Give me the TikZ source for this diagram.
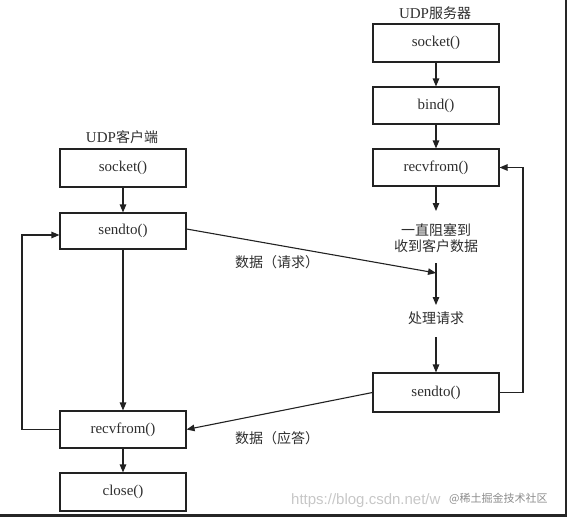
\documentclass[tikz,border=0pt]{standalone}
\usepackage{fontspec}
\setmainfont{Liberation Serif}
\newfontfamily\cjk{Noto Sans CJK SC}
\newfontfamily\wmsans{Liberation Sans}
\usetikzlibrary{arrows.meta,positioning}
\definecolor{ink}{HTML}{222222}
\definecolor{txt}{HTML}{2E2E2E}
\tikzset{
  fbox/.style={draw=ink, line width=1.1pt, minimum width=126pt, inner sep=0pt, font=\fontsize{15}{17}\selectfont, text=txt},
  arr/.style={draw=ink, line width=1.1pt, -{Triangle[length=8pt,width=6.5pt]}},
  cn/.style={font=\cjk\fontsize{14}{17}\selectfont, text=txt},
  hd/.style={font=\fontsize{15}{17}\selectfont, text=txt},
  wm/.style={text=black!22, inner sep=0pt},
}
\begin{document}
\begin{tikzpicture}[x=1pt,y=-1pt]
\useasboundingbox (0,0) rectangle (570,520);
% frame artefact
\draw[line width=2.2pt, black!85] (566,0) -- (566,515.5) -- (0,515.5);

% client column
\node[hd] (chead) at (122,137) {UDP{\cjk\fontsize{14}{17}\selectfont 客户端}};
\node[fbox, minimum height=38pt] (cs) at (123,168) {socket()};
\node[fbox, minimum height=36pt] (cst) at (123,231) {sendto()};
\node[fbox, minimum height=37pt] (crv) at (123,429.5) {recvfrom()};
\node[fbox, minimum height=38pt] (ccl) at (123,492) {close()};

\draw[arr] (cs) -- (cst);
\draw[arr] (cst) -- (crv);
\draw[arr] (crv) -- (ccl);
\coordinate (cloop) at (22,429.5);
\draw[arr] (crv.west) -- (cloop) |- ([yshift=-4pt]cst.west);

% server column
\node[hd] (shead) at (435,13) {UDP{\cjk\fontsize{14}{17}\selectfont 服务器}};
\node[fbox, minimum height=38pt] (ss) at (436,43) {socket()};
\node[fbox, minimum height=37pt] (sb) at (436,105.5) {bind()};
\node[fbox, minimum height=37pt] (sr) at (436,167.5) {recvfrom()};
\node[cn, align=center] (sblock) at (436,238) {一直阻塞到\\[-1pt]收到客户数据};
\coordinate (sa) at (436,211);
\coordinate (sj1) at (436,263);
\coordinate (sj) at (436,273);
\node[cn] (sproc) at (436,318) {处理请求};
\coordinate (sp2) at (436,337);
\node[fbox, minimum height=39pt] (ssend) at (436,392.5) {sendto()};

\draw[arr] (ss) -- (sb);
\draw[arr] (sb) -- (sr);
\draw[arr] (sr) -- (sa);
\draw[arr] (sj1) -- ([yshift=3pt]sproc.north);
\draw[arr] (sp2) -- (ssend.north);
\coordinate (sloop) at (523,392.5);
\draw[arr] (ssend.east) -- (sloop) |- (sr.east);

% messages
\draw[arr] ([yshift=2pt]cst.east) -- (sj);
\draw[arr] (ssend.west) -- (crv.east);
\node[cn] (lreq) at (277,262) {数据（请求）};
\node[cn] (lresp) at (277,438) {数据（应答）};

% watermark
\node[wm, anchor=west, font=\wmsans\fontsize{15}{16}\selectfont] (wm1) at (291,501) {https://blog.csdn.net/w};
\node[wm, anchor=west, text=black!45, font=\cjk\fontsize{11}{13}\selectfont] (wm2) at (449,499) {@稀土掘金技术社区};
\end{tikzpicture}
\end{document}
